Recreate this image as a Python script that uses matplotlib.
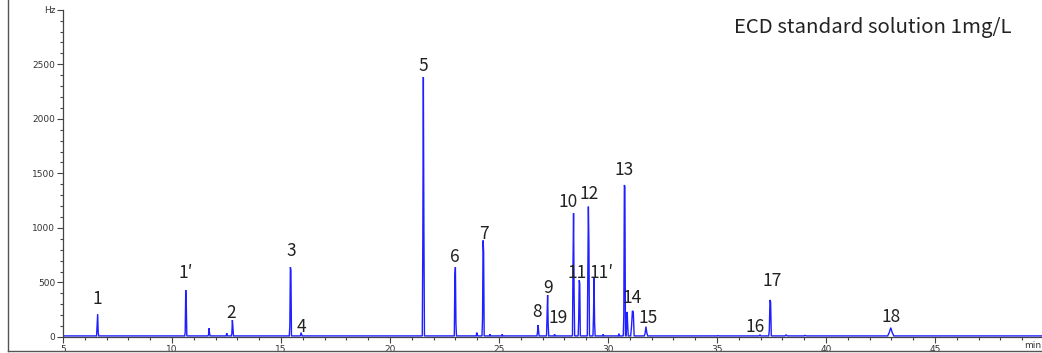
import matplotlib.pyplot as plt
from matplotlib.lines import Line2D
from matplotlib.ticker import MultipleLocator

# Peak table (retention time in min, signal in Hz)
peak_rt = [6.59, 10.63, 11.70, 12.51, 12.77, 15.43, 15.92, 21.53, 23.00,
           23.98, 24.27, 24.59, 25.15, 26.79, 27.23, 27.55, 28.42, 28.68,
           29.10, 29.36, 29.78, 30.50, 30.75, 30.88, 31.12, 31.74, 35.05,
           36.97, 37.43, 38.17, 39.04, 42.97]
peak_hz = [210, 430, 80, 35, 155, 640, 40, 2383, 640,
           40, 885, 25, 25, 110, 385, 25, 1134, 520,
           1195, 540, 25, 30, 1393, 230, 240, 95, 12,
           20, 340, 20, 15, 85]
pre_hz = [120, 40, 20, 10, 30, 100, 15, 860, 560,
          10, 170, 10, 10, 40, 200, 10, 675, 150,
          560, 200, 10, 10, 200, 100, 100, 30, 10,
          10, 60, 10, 10, 40]
post_hz = [40, 310, 30, 15, 90, 610, 25, 1000, 120,
           20, 780, 10, 10, 60, 120, 10, 400, 490,
           860, 130, 10, 10, 1380, 100, 230, 40, 10,
           10, 320, 10, 10, 40]
peak_dt = [0.025] * 24 + [0.04, 0.04, 0.05, 0.04, 0.03, 0.05, 0.05, 0.07]
baseline_hz = 10

# Peak labels and where they sit
labels = ["1", "1\u2032", "2", "3", "4", "5", "6", "7", "8", "9", "19", "10",
          "11", "12", "11\u2032", "13", "14", "15", "16", "17", "18"]
label_x = [6.56, 10.64, 12.71, 15.46, 15.96, 21.51, 22.98, 24.31, 26.74,
           27.25, 27.71, 28.17, 28.58, 29.13, 29.70, 30.73, 31.10, 31.83,
           36.75, 37.52, 42.98]
label_y = [348, 587, 220, 788, 92, 2484, 733, 944, 229,
           449, 174, 1237, 587, 1311, 587, 1531, 357, 174,
           92, 513, 183]

# Build the trace: flat baseline, each peak as a few sampled points
trace_t = [5.0]
trace_s = [baseline_hz]
for rt, h, pre, post, dt in zip(peak_rt, peak_hz, pre_hz, post_hz, peak_dt):
    trace_t += [rt - 2 * dt, rt - dt, rt, rt + dt, rt + 2 * dt]
    trace_s += [baseline_hz, pre, h, post, baseline_hz]
trace_t.append(50.0)
trace_s.append(baseline_hz)

fig = plt.figure(figsize=(10.42, 3.53), dpi=100, facecolor="white")
ax = fig.add_axes([63 / 1042, 16 / 353, 45 * 21.8 / 1042, 3000 * 0.1091 / 353])

ax.plot(trace_t, trace_s, color="#1f1fff", lw=1.0, solid_joinstyle="miter")

ax.set_xlim(5, 50)
ax.set_ylim(0, 3000)

# Axes styling like the instrument software
for side in ["top", "right"]:
    ax.spines[side].set_visible(False)
for side in ["left", "bottom"]:
    ax.spines[side].set_color("#444444")
    ax.spines[side].set_linewidth(0.9)

ax.set_xticks(range(5, 50, 5))
ax.xaxis.set_minor_locator(MultipleLocator(1))
ax.set_yticks(range(0, 3001, 500))
ax.set_yticklabels([str(v) for v in range(0, 3000, 500)] + ["Hz"])
ax.yaxis.set_minor_locator(MultipleLocator(100))

ax.tick_params(which="major", length=4, width=0.8, color="#444444",
               labelsize=6.5, labelcolor="#333333", pad=1.5)
ax.tick_params(which="minor", length=2, width=0.8, color="#444444")

# time unit at the right end of the x axis
fig.text(1041 / 1042, 1 - 345 / 353, "min", ha="right", va="center",
         fontsize=6.5, color="#333333")

# Peak numbers
for txt, lx, ly in zip(labels, label_x, label_y):
    ax.text(lx, ly, txt, ha="center", va="center", fontsize=12.5,
            family=["Noto Sans CJK KR", "DejaVu Sans"], color="#222222")

fig.text(1012 / 1042, 1 - 28 / 353, "ECD standard solution 1mg/L",
         ha="right", va="center", fontsize=14.7,
         family=["Noto Sans CJK KR", "DejaVu Sans"], color="#222222")

# Outer frame of the screenshot (left and bottom edges visible)
fig.add_artist(Line2D([8 / 1042, 8 / 1042], [1 - 351 / 353, 1.0],
                      transform=fig.transFigure, color="#555555", lw=1.0))
fig.add_artist(Line2D([8 / 1042, 1.0], [1 - 351 / 353, 1 - 351 / 353],
                      transform=fig.transFigure, color="#555555", lw=1.0))

plt.savefig("out.png", dpi=100, facecolor="white")
